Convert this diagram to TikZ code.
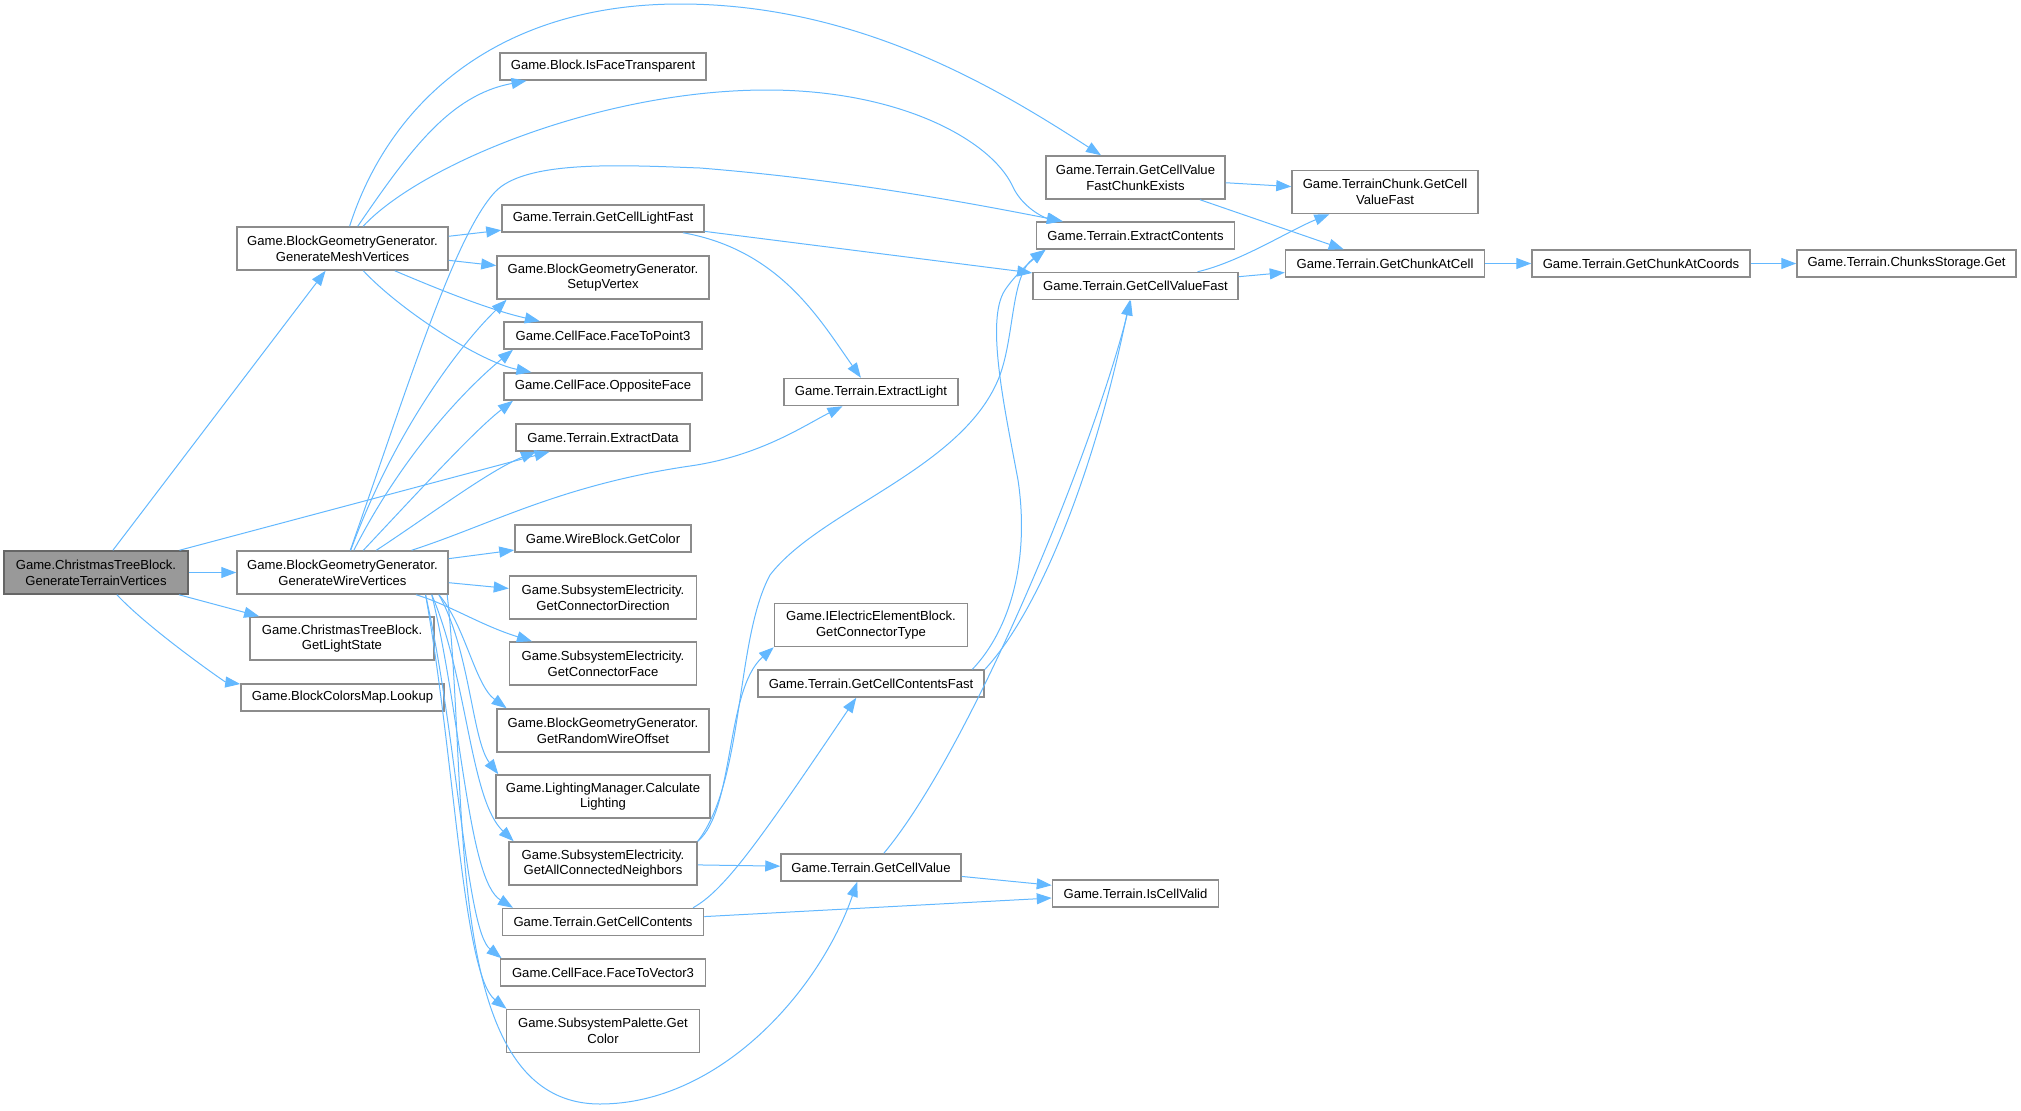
\documentclass[tikz,border=0pt]{standalone}
\usepackage{fontspec}
\setmainfont{Liberation Sans}
\usetikzlibrary{arrows.meta}
\definecolor{edgeblue}{HTML}{63B8FF}
\definecolor{boxline}{HTML}{8C8C8C}
\definecolor{rootfill}{HTML}{999999}
\definecolor{rootline}{HTML}{666666}

\begin{document}
\begin{tikzpicture}[x=0.2mm, y=-0.2mm,
  fn/.style={draw=boxline, fill=white, line width=0.3mm, inner sep=0pt, align=center,
    font=\fontsize{7.45}{8.9}\selectfont, minimum height=5.4mm},
  fntwo/.style={fn, minimum height=8.6mm},
  call/.style={draw=edgeblue, line width=0.2mm, -{Triangle[length=3mm,width=2.2mm]}}]

\useasboundingbox (0,0) rectangle (2021,1111);

% caller
\node[fntwo, fill=rootfill, draw=rootline, minimum width=36.8mm] (root) at (96,572.5) {Game.ChristmasTreeBlock.\\GenerateTerrainVertices};

% first level
\node[fntwo, minimum width=42.2mm] (mesh) at (342.5,248.5) {Game.BlockGeometryGenerator.\\GenerateMeshVertices};
\node[fntwo, minimum width=42.2mm] (wire) at (342.5,572.5) {Game.BlockGeometryGenerator.\\GenerateWireVertices};
\node[fntwo, minimum width=36.8mm] (lightstate) at (342,638.5) {Game.ChristmasTreeBlock.\\GetLightState};
\node[fn, minimum width=40.6mm] (lookup) at (342.5,697.5) {Game.BlockColorsMap.Lookup};

% second level
\node[fn, minimum width=41.2mm] (isface) at (603,66.5) {Game.Block.IsFaceTransparent};
\node[fn, minimum width=40.4mm] (lightfast) at (603,218.5) {Game.Terrain.GetCellLightFast};
\node[fntwo, minimum width=42.4mm] (setup) at (603,277.5) {Game.BlockGeometryGenerator.\\SetupVertex};
\node[fn, minimum width=39.6mm] (facepoint) at (603,335.5) {Game.CellFace.FaceToPoint3};
\node[fn, minimum width=39.6mm] (opposite) at (603,386.5) {Game.CellFace.OppositeFace};
\node[fn, minimum width=34.8mm] (extractdata) at (603,437.5) {Game.Terrain.ExtractData};
\node[fn, minimum width=35.2mm] (wirecolor) at (603,538.5) {Game.WireBlock.GetColor};
\node[fntwo, minimum width=37.4mm] (conndir) at (603,597.5) {Game.SubsystemElectricity.\\GetConnectorDirection};
\node[fntwo, minimum width=37.4mm] (connface) at (603,663.5) {Game.SubsystemElectricity.\\GetConnectorFace};
\node[fntwo, minimum width=42.4mm] (randoffset) at (603,730.5) {Game.BlockGeometryGenerator.\\GetRandomWireOffset};
\node[fntwo, minimum width=42.8mm] (calclight) at (603,796.5) {Game.LightingManager.Calculate\\Lighting};
\node[fntwo, minimum width=37.6mm] (neighbors) at (603,863.5) {Game.SubsystemElectricity.\\GetAllConnectedNeighbors};
\node[fn, minimum width=40.2mm] (contents) at (603,922) {Game.Terrain.GetCellContents};
\node[fn, minimum width=41mm] (facevec) at (603,972.5) {Game.CellFace.FaceToVector3};
\node[fntwo, minimum width=38.6mm] (palette) at (603,1031) {Game.SubsystemPalette.Get\\Color};

% third level
\node[fn, minimum width=34.8mm] (extractlight) at (871,392) {Game.Terrain.ExtractLight};
\node[fntwo, minimum width=38.6mm] (conntype) at (871,625) {Game.IElectricElementBlock.\\GetConnectorType};
\node[fn, minimum width=45.2mm] (contentsfast) at (871,683.5) {Game.Terrain.GetCellContentsFast};
\node[fn, minimum width=36mm] (cellvalue) at (871,867.5) {Game.Terrain.GetCellValue};

% fourth level
\node[fntwo, minimum width=35.8mm] (chunkexists) at (1135.5,177.5) {Game.Terrain.GetCellValue\\FastChunkExists};
\node[fn, minimum width=39.6mm] (extractcontents) at (1135.5,235.5) {Game.Terrain.ExtractContents};
\node[fn, minimum width=41mm] (valuefast) at (1135.5,286) {Game.Terrain.GetCellValueFast};
\node[fn, minimum width=33.2mm] (cellvalid) at (1135.5,893.5) {Game.Terrain.IsCellValid};

% chunk lookups
\node[fntwo, minimum width=37.2mm] (chunkvalue) at (1385,192) {Game.TerrainChunk.GetCell\\ValueFast};
\node[fn, minimum width=39.8mm] (chunkatcell) at (1385,263.5) {Game.Terrain.GetChunkAtCell};
\node[fn, minimum width=43.6mm] (chunkatcoords) at (1641,263.5) {Game.Terrain.GetChunkAtCoords};
\node[fn, minimum width=43.8mm] (chunksget) at (1906.5,263.5) {Game.Terrain.ChunksStorage.Get};

% calls of the caller
\draw[call] (root) -- (mesh);
\draw[call] (root) -- (extractdata);
\draw[call] (root) -- (wire);
\draw[call] (root) -- (lightstate);
\draw[call] (root) .. controls (150,630) and (225,682) .. (lookup);

% calls of GenerateMeshVertices
\draw[call] (mesh) .. controls (390,100) and (500,4) .. (680,4)
  .. controls (860,4) and (1000,90) .. (chunkexists);
\draw[call] (mesh) .. controls (410,150) and (450,95) .. (isface);
\draw[call] (mesh) .. controls (420,165) and (600,90) .. (767,90)
  .. controls (900,90) and (990,140) .. (1012,185)
  .. controls (1022,208) and (1045,218) .. (extractcontents);
\draw[call] (mesh) -- (lightfast);
\draw[call] (mesh) -- (setup);
\draw[call] (mesh) .. controls (440,290) and (490,310) .. (facepoint);
\draw[call] (mesh) .. controls (400,310) and (480,362) .. (opposite);

% calls of GenerateWireVertices
\draw[call] (wire) .. controls (410,380) and (455,235) .. (495,192)
  .. controls (525,160) and (620,165) .. (700,168)
  .. controls (850,180) and (980,205) .. (extractcontents);
\draw[call] (wire) .. controls (395,430) and (460,345) .. (setup.-167);
\draw[call] (wire) .. controls (405,450) and (470,385) .. (facepoint.-171);
\draw[call] (wire) .. controls (420,490) and (475,430) .. (opposite.-171);
\draw[call] (wire) .. controls (430,515) and (490,470) .. (extractdata.-168);
\draw[call] (wire) .. controls (490,525) and (560,485) .. (690,466)
  .. controls (760,456) and (805,425) .. (extractlight);
\draw[call] (wire) -- (wirecolor);
\draw[call] (wire) -- (conndir);
\draw[call] (wire) .. controls (450,605) and (480,625) .. (connface);
\draw[call] (wire.-13) .. controls (465,625) and (475,685) .. (randoffset.167.7);
\draw[call] (wire.-13.5) .. controls (470,650) and (472,740) .. (calclight.168);
\draw[call] (wire.-14) .. controls (468,680) and (470,800) .. (neighbors.166.8);
\draw[call] (wire.-14.5) .. controls (462,720) and (468,880) .. (contents.171.5);
\draw[call] (wire.-15) .. controls (458,740) and (466,930) .. (facevec.172);
\draw[call] (wire.-15.5) .. controls (455,760) and (463,975) .. (palette.167.2);
\draw[call] (wire.-12.5) .. controls (470,800) and (440,1104) .. (600,1104)
  .. controls (720,1104) and (820,990) .. (cellvalue.-134);

% deeper calls
\draw[call] (lightfast) .. controls (780,250) and (820,320) .. (extractlight);
\draw[call] (lightfast) -- (valuefast);
\draw[call] (neighbors.north east) .. controls (735,810) and (725,690) .. (conntype.south west);
\draw[call] (neighbors.north east) .. controls (745,780) and (735,640) .. (770,575)
  .. controls (820,510) and (960,470) .. (998,380)
  .. controls (1015,340) and (1010,275) .. (extractcontents.-171.5);
\draw[call] (neighbors) -- (cellvalue);
\draw[call] (contents.9.5) .. controls (725,890) and (760,840) .. (contentsfast.-136);
\draw[call] (contents) -- (cellvalid);
\draw[call] (contentsfast.8) .. controls (1010,630) and (1030,560) .. (1018,480)
  .. controls (1005,410) and (985,320) .. (1005,290)
  .. controls (1015,275) and (1030,262) .. (extractcontents.-171.5);
\draw[call] (contentsfast.7) .. controls (1040,610) and (1095,470) .. (valuefast.-112);
\draw[call] (cellvalue.48) .. controls (970,750) and (1090,460) .. (valuefast.-108);
\draw[call] (cellvalue) -- (cellvalid);

% chunk access
\draw[call] (chunkexists) -- (chunkvalue);
\draw[call] (chunkexists) -- (chunkatcell);
\draw[call] (valuefast) .. controls (1240,262) and (1290,230) .. (chunkvalue);
\draw[call] (valuefast) -- (chunkatcell);
\draw[call] (chunkatcell) -- (chunkatcoords);
\draw[call] (chunkatcoords) -- (chunksget);

\end{tikzpicture}
\end{document}
